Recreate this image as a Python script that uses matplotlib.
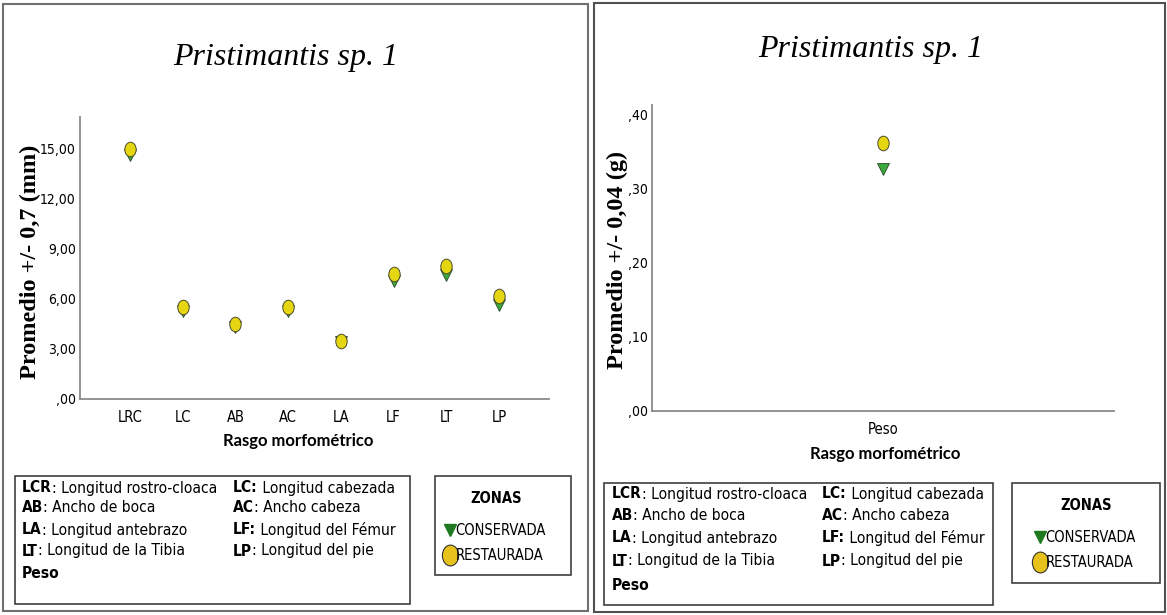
import matplotlib
matplotlib.use("Agg")
import matplotlib.pyplot as plt
from matplotlib.patches import Rectangle
from matplotlib.markers import MarkerStyle
from matplotlib.transforms import Affine2D
from matplotlib.lines import Line2D

# data
rasgos = ['LRC', 'LC', 'AB', 'AC', 'LA', 'LF', 'LT', 'LP']
conservada_mm = [14.6, 5.3, 4.3, 5.3, 3.4, 7.1, 7.45, 5.65]
restaurada_mm = [15.0, 5.5, 4.5, 5.5, 3.5, 7.5, 8.0, 6.2]
yticks_mm = [0, 3, 6, 9, 12, 15]

peso = ['Peso']
conservada_g = [0.327]
restaurada_g = [0.362]
yticks_g = [0, 0.1, 0.2, 0.3, 0.4]

abrev = [
    [('LCR', ': Longitud rostro-cloaca'), ('LC:', ' Longitud cabezada')],
    [('AB', ': Ancho de boca'), ('AC', ': Ancho cabeza')],
    [('LA', ': Longitud antebrazo'), ('LF:', ' Longitud del Fémur')],
    [('LT', ': Longitud de la Tibia'), ('LP', ': Longitud del pie')],
    [('Peso', ''), None],
]

W, H = 1167, 615
fig = plt.figure(figsize=(W / 100, H / 100), dpi=100)

NARROW = dict(family='DejaVu Sans', stretch='condensed')
SERIF = ['Liberation Serif', 'DejaVu Serif']
green_pt = '#3aa83a'
green_leg = '#1f7a1f'
yellow_pt = '#e6d612'
yellow_leg = '#e8c21c'
ellipse = MarkerStyle('o', transform=Affine2D().scale(0.78, 1.0))


def px_axes(x0, y0, x1, y1):
    return fig.add_axes([x0 / W, 1 - y1 / H, (x1 - x0) / W, (y1 - y0) / H])


def px_rect(x0, y0, x1, y1, color, lw):
    fig.add_artist(Rectangle((x0 / W, 1 - y1 / H), (x1 - x0) / W, (y1 - y0) / H,
                             transform=fig.transFigure, fill=False, ec=color, lw=lw))


def px_text(x, y, s, **kw):
    return fig.text(x / W, 1 - y / H, s, **kw)


def fmt(v):
    s = f"{v:.2f}".replace('.', ',')
    return s[1:] if s.startswith('0,') else s


def style_axes(ax, ticks):
    for side in ['top', 'right']:
        ax.spines[side].set_visible(False)
    for side in ['left', 'bottom']:
        ax.spines[side].set_color('#8a8a8a')
        ax.spines[side].set_linewidth(1.3)
    ax.set_yticks(ticks)
    ax.set_yticklabels([fmt(t) for t in ticks], fontsize=10, **NARROW)
    ax.tick_params(length=0, pad=3)
    ax.tick_params(axis='x', pad=8)
    for lab in ax.get_xticklabels():
        lab.set_family(NARROW['family'])
        lab.set_stretch(NARROW['stretch'])
        lab.set_fontsize(10.5)


def draw_panel(ax, cats, cons, rest, ticks, ylim, xlim):
    ax.plot(cats, cons, linestyle='none', marker='v', markersize=8,
            markerfacecolor=green_pt, markeredgecolor='#2b4a2b', markeredgewidth=0.6)
    ax.plot(cats, rest, linestyle='none', marker=ellipse, markersize=10.5,
            markerfacecolor=yellow_pt, markeredgecolor='#4a4a2a', markeredgewidth=0.7)
    ax.set_ylim(*ylim)
    ax.set_xlim(*xlim)
    style_axes(ax, ticks)


def abbrev_box(x0, y0, x1, y1, tx, col2, ys):
    px_rect(x0, y0, x1, y1, '#404040', 1.2)
    for row, y in zip(abrev, ys):
        for item, x in zip(row, [tx, col2]):
            if item is None:
                continue
            b = px_text(x, y, item[0], fontsize=11.2, fontweight='bold',
                        va='center', ha='left', **NARROW)
            if item[1]:
                plt.annotate(item[1], xy=(1, 0.5), xycoords=b, va='center',
                             ha='left', fontsize=11.2, annotation_clip=False, **NARROW)


def zonas_box(x0, y0, x1, y1, cx):
    px_rect(x0, y0, x1, y1, '#404040', 1.2)
    handles = [
        Line2D([], [], linestyle='none', marker='v', markersize=9,
               markerfacecolor=green_leg, markeredgecolor=green_leg),
        Line2D([], [], linestyle='none', marker=ellipse, markersize=15,
               markerfacecolor=yellow_leg, markeredgecolor='#333333', markeredgewidth=0.8),
    ]
    leg = fig.legend(handles, ['CONSERVADA', 'RESTAURADA'], title='ZONAS',
                     loc='upper center', bbox_to_anchor=(cx / W, 1 - (y0 + 2) / H),
                     frameon=False, handlelength=0.6, handletextpad=0.05,
                     labelspacing=0.7, prop={'size': 10.5, **NARROW},
                     title_fontproperties={'size': 10.5, 'weight': 'bold', **NARROW})
    leg._legend_box.sep = 12


# panel frames
px_rect(3, 4, 588, 611, '#707070', 1.5)
px_rect(594, 3, 1165, 612, '#505050', 1.5)

# left chart
ax1 = px_axes(80, 117, 549, 399)
draw_panel(ax1, rasgos, conservada_mm, restaurada_mm, yticks_mm, (0, 16.9), (-0.95, 7.95))
px_text(286, 58, 'Pristimantis sp. 1', family=SERIF, style='italic', fontsize=23,
        ha='center', va='center')
px_text(30, 262, 'Promedio +/- 0,7 (mm)', family=SERIF, fontweight='bold', fontsize=17.5,
        rotation=90, ha='center', va='center')
px_text(298, 441, 'Rasgo morfométrico', family=['Lato', 'DejaVu Sans'], fontweight='bold',
        fontsize=12, ha='center', va='center')

# right chart
ax2 = px_axes(652, 105, 1114, 411)
draw_panel(ax2, peso, conservada_g, restaurada_g, yticks_g, (0, 0.4135), (-1, 1))
px_text(871, 50, 'Pristimantis sp. 1', family=SERIF, style='italic', fontsize=23,
        ha='center', va='center')
px_text(617, 260, 'Promedio +/- 0,04 (g)', family=SERIF, fontweight='bold', fontsize=17.5,
        rotation=90, ha='center', va='center')
px_text(885, 454, 'Rasgo morfométrico', family=['Lato', 'DejaVu Sans'], fontweight='bold',
        fontsize=12, ha='center', va='center')

# legends
abbrev_box(15, 476, 410, 604, 22, 233, [488, 508, 530, 551, 574])
zonas_box(435, 476, 571, 575, 496)
abbrev_box(604, 483, 993, 605, 612, 822, [494, 515, 538, 561, 586])
zonas_box(1012, 483, 1160, 583, 1086)

fig.savefig('out.png', dpi=100)
